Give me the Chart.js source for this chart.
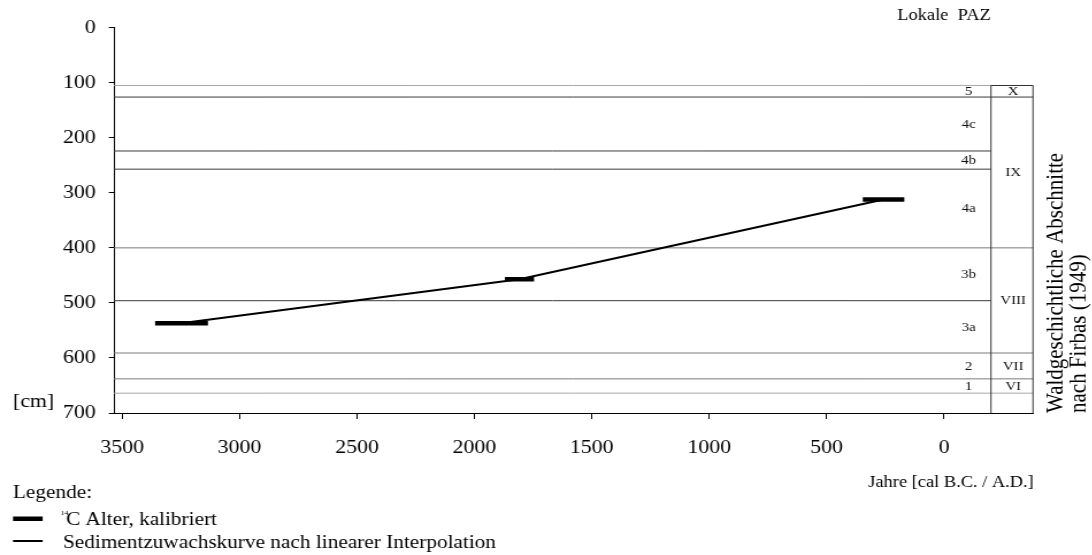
<!DOCTYPE html>
<html>
<head>
<meta charset="utf-8">
<script src="https://cdn.jsdelivr.net/npm/chart.js@4"></script>
<style>
  html, body { margin: 0; padding: 0; background: #fff; overflow: hidden; }
  #wrap { width: 1092px; height: 555px; overflow: hidden; }
  #c { transform-origin: 0 0; transform: scaleX(1.15); display: block; }
</style>
</head>
<body>
<div id="wrap"><canvas id="c" width="950" height="555"></canvas></div>
<script>
// Calibrated 14C ages (years cal B.C.) as ranges at their sample depths (cm)
const dateFrom  = [3360, 1870, 346];
const dateTo    = [3135, 1746, 169];
const dateDepth = [537, 457, 312];

// Sediment accumulation curve (linear interpolation between dated levels)
const curveAges   = [3250, 1808, 258];
const curveDepths = [537, 457, 312];

// Local pollen assemblage zones (PAZ): boundaries in cm and names
const pazBounds = [105, 126, 224, 257, 400, 496, 591, 638, 664];
const pazNames  = ['5', '4c', '4b', '4a', '3b', '3a', '2', '1'];

// Forest history periods after Firbas (1949)
const firbasBounds = [105, 126, 400, 591, 638, 664];
const firbasNames  = ['X', 'IX', 'VIII', 'VII', 'VI'];

// Axis ticks
const xTickValues = [3500, 3000, 2500, 2000, 1500, 1000, 500, 0];
const yTickValues = [0, 100, 200, 300, 400, 500, 600, 700];

const SX = 1.15;           // horizontal stretch of the canvas (see CSS)
const FONT = "'Liberation Serif', 'Times New Roman', serif";
const fx = px => px / SX;  // page x -> canvas x

const lightLines = [105, 664];
const midLines = [400, 591, 638];
function lineColor(d) {
  if (lightLines.includes(d)) return '#a8a8a8';
  if (midLines.includes(d)) return '#7a7a7a';
  return '#3a3a3a';
}

const zonesPlugin = {
  id: 'zones',
  beforeDatasetsDraw(chart) {
    const { ctx, chartArea: a, scales: { x, y } } = chart;
    const boxL = x.getPixelForValue(-200);
    ctx.save();
    ctx.lineWidth = 1;
    pazBounds.forEach(d => {
      const py = y.getPixelForValue(d);
      const across = firbasBounds.includes(d);
      ctx.strokeStyle = lineColor(d);
      ctx.beginPath();
      ctx.moveTo(a.left, py);
      ctx.lineTo(across ? a.right : boxL, py);
      ctx.stroke();
    });
    // Firbas column frame
    const top = y.getPixelForValue(firbasBounds[0]);
    const bot = y.getPixelForValue(700);
    ctx.strokeStyle = '#333';
    ctx.beginPath();
    ctx.moveTo(boxL, top); ctx.lineTo(a.right, top);
    ctx.moveTo(boxL, top); ctx.lineTo(boxL, bot);
    ctx.moveTo(a.right, top); ctx.lineTo(a.right, bot);
    ctx.stroke();

    ctx.fillStyle = '#111';
    ctx.font = '13px ' + FONT;
    ctx.textAlign = 'center';
    ctx.textBaseline = 'middle';
    const zx = x.getPixelForValue(-105);
    pazNames.forEach((n, i) => {
      const py = y.getPixelForValue((pazBounds[i] + pazBounds[i + 1]) / 2);
      ctx.fillText(n, zx, py + 0.5);
    });
    const fxc = (boxL + a.right) / 2 + 1;
    firbasNames.forEach((n, i) => {
      const py = y.getPixelForValue((firbasBounds[i] + firbasBounds[i + 1]) / 2);
      ctx.fillText(n, fxc, py + 0.5);
    });
    ctx.restore();
  },
  afterDraw(chart) {
    const { ctx } = chart;
    ctx.save();
    ctx.fillStyle = '#000';
    ctx.textBaseline = 'alphabetic';

    ctx.font = '16px ' + FONT;
    ctx.textAlign = 'center';
    ctx.fillText('Lokale  PAZ', fx(944), 20);
    ctx.fillText('Jahre [cal B.C. / A.D.]', fx(951), 487);

    ctx.textAlign = 'left';
    ctx.font = '19px ' + FONT;
    ctx.fillText('[cm]', fx(13), 407);

    // Legend
    ctx.font = '18.5px ' + FONT;
    ctx.fillText('Legende:', fx(13), 498);
    ctx.fillRect(fx(13), 516.5, fx(42.7) - fx(13), 4.5);
    ctx.font = '7px ' + FONT;
    ctx.fillText('14', fx(60.5), 515);
    ctx.font = '18.5px ' + FONT;
    ctx.fillText('C Alter, kalibriert', fx(66), 525);
    ctx.fillRect(fx(13), 540, fx(42.7) - fx(13), 2);
    ctx.fillText('Sedimentzuwachskurve nach linearer Interpolation', fx(63), 548);

    // Vertical caption on the right, reading bottom to top
    ctx.font = '21px ' + FONT;
    ctx.textBaseline = 'alphabetic';
    ctx.translate(fx(1063), 413);
    ctx.rotate(-Math.PI / 2);
    ctx.fillText('Waldgeschichtliche Abschnitte', 0, 0);
    ctx.fillText('nach Firbas (1949)', 0, fx(1086) - fx(1063));
    ctx.restore();
  }
};

const datasets = [{
  label: 'Sedimentzuwachskurve nach linearer Interpolation',
  data: curveAges.map((a, i) => ({ x: a, y: curveDepths[i] })),
  showLine: true,
  borderColor: '#000',
  borderWidth: 2,
  pointRadius: 0,
  order: 2
}];
dateFrom.forEach((f, i) => {
  datasets.push({
    label: '14C Alter, kalibriert',
    data: [{ x: f, y: dateDepth[i] }, { x: dateTo[i], y: dateDepth[i] }],
    showLine: true,
    borderColor: '#000',
    borderWidth: 4.5,
    borderCapStyle: 'butt',
    pointRadius: 0,
    order: 1
  });
});

new Chart(document.getElementById('c'), {
  type: 'scatter',
  data: { datasets },
  plugins: [zonesPlugin],
  options: {
    responsive: false,
    animation: false,
    devicePixelRatio: 1,
    layout: { padding: { left: 0, top: 27.7, right: 950 - fx(1033), bottom: 92 } },
    plugins: { legend: { display: false }, tooltip: { enabled: false } },
    scales: {
      x: {
        type: 'linear',
        reverse: true,
        min: -379,
        max: 3535,
        afterBuildTicks: s => { s.ticks = xTickValues.map(v => ({ value: v })); },
        afterFit: s => { s.height = 50; },
        grid: { drawOnChartArea: false, drawTicks: true, tickLength: 6, tickColor: '#000' },
        border: { display: true, color: '#000', width: 1 },
        ticks: {
          autoSkip: false, maxRotation: 0, padding: 18,
          color: '#000', font: { family: FONT, size: 19 },
          callback: v => String(v)
        }
      },
      y: {
        type: 'linear',
        reverse: true,
        min: 0,
        max: 700,
        afterBuildTicks: s => { s.ticks = yTickValues.map(v => ({ value: v })); },
        afterFit: s => { s.width = fx(114); },
        grid: { drawOnChartArea: false, drawTicks: true, tickLength: 4.5, tickColor: '#000' },
        border: { display: true, color: '#000', width: 1 },
        ticks: {
          padding: 11.5,
          color: '#000', font: { family: FONT, size: 19 },
          callback: v => String(v)
        }
      }
    }
  }
});
</script>
</body>
</html>
